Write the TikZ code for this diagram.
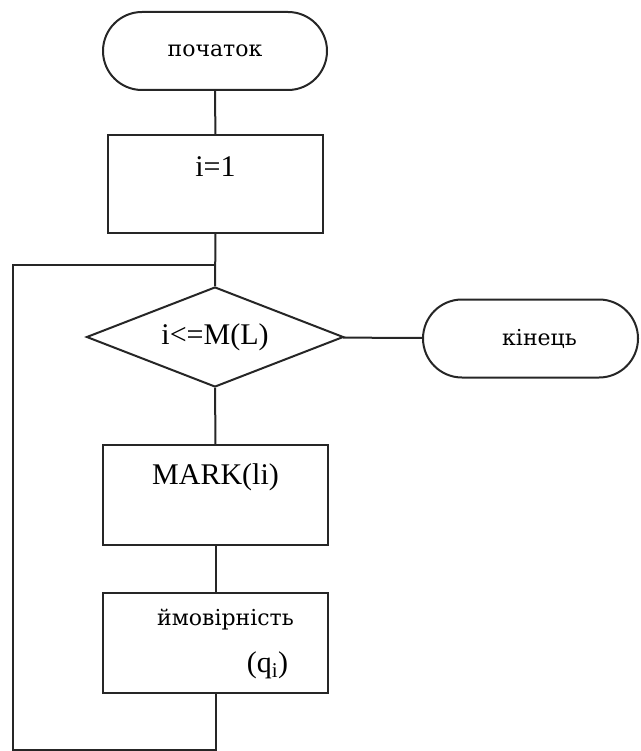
\documentclass[tikz,border=0pt]{standalone}
\usepackage{fontspec}
\setmainfont{Liberation Serif}
\newfontfamily\chartfont{DejaVu Serif}
\usetikzlibrary{shapes.geometric}

\begin{document}
\begin{tikzpicture}[x=1pt, y=-1pt]
    \tikzset{line/.style = {line width=2pt, draw=black!85}}
    \tikzset{cyr/.style = {font=\chartfont\fontsize{22}{26}\selectfont}}
    \tikzset{latin/.style = {font=\fontsize{30}{35}\selectfont}}
    \tikzset{terminal/.style = {line, cyr, rectangle, rounded corners=39pt, minimum height=78pt, inner sep=0pt}}
    \tikzset{block/.style = {line, rectangle, minimum width=225pt, minimum height=100pt, inner sep=0pt}}
    \tikzset{test/.style = {line, latin, diamond, aspect=2.57, minimum width=257pt, minimum height=100pt, inner sep=0pt}}
    \useasboundingbox (0, 0) rectangle (640, 751);
    \node[terminal, minimum width=224pt] (start) at (215, 51) {початок};
    \node[block, minimum width=215pt, minimum height=98pt,
          label={[latin, yshift=17pt]center:i=1}] (init) at (215.5, 184) {};
    \node[test] (check) at (215, 337) {i<=M(L)};
    \node[terminal, minimum width=215pt,
          label={[cyr, xshift=9pt]center:кінець}] (stop) at (530.5, 338.5) {};
    \node[block, label={[latin, yshift=18pt]center:MARK(li)}] (mark) at (215.5, 495) {};
    \node[block, label={[cyr, xshift=10pt, yshift=23pt]center:ймовірність},
          label={[latin, xshift=52pt, yshift=-22pt]center:(q\textsubscript{i})}] (prob) at (215.5, 643) {};
    \coordinate (loopbot) at (13, 750);
    \coordinate (looptop) at (13, 265);
    \draw[line] (start) -- (init);
    \draw[line] (init) -- (check);
    \draw[line] (check) -- (stop);
    \draw[line] (check) -- (mark);
    \draw[line] (mark) -- (prob);
    \draw[line] (prob.south) |- (loopbot) -- (looptop) -- (init.south |- looptop);
\end{tikzpicture}
\end{document}
